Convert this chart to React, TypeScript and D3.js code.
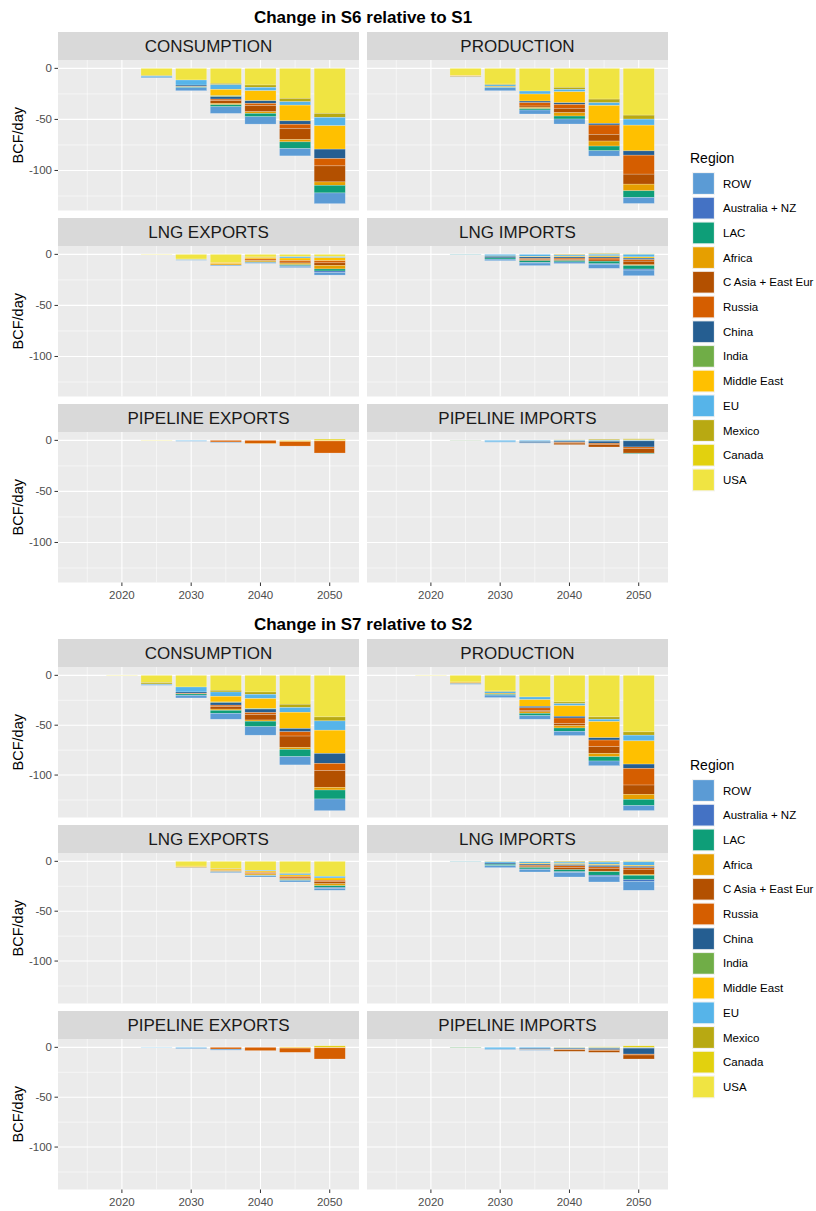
import React from "react";
import * as d3 from "d3";

const REGIONS = ["ROW", "Australia + NZ", "LAC", "Africa", "C Asia + East Eur", "Russia", "China", "India", "Middle East", "EU", "Mexico", "Canada", "USA"];
const COLORS = ["#5B9BD5", "#4472C4", "#0E9E78", "#E69F00", "#B35000", "#D55E00", "#255E91", "#70AD47", "#FFC000", "#56B4E9", "#B8A912", "#E2D10E", "#F0E442"];
const YEARS = [2015, 2020, 2025, 2030, 2035, 2040, 2045, 2050];
const FACETS = ["CONSUMPTION", "PRODUCTION", "LNG EXPORTS", "LNG IMPORTS", "PIPELINE EXPORTS", "PIPELINE IMPORTS"];
const Y_TICKS = [0, -50, -100];
const Y_MINOR = [-25, -75, -125];
const X_TICKS = [2020, 2030, 2040, 2050];
const X_MINOR = [2015, 2025, 2035, 2045];
const TITLES = ["Change in S6 relative to S1", "Change in S7 relative to S2"];

// columns: ROW, Aus+NZ, LAC, Africa, CAsia, Russia, China, India, MidEast, EU, Mexico, Canada, USA
const S6_CONSUMPTION = [
  [0, 0, 0, 0, 0, 0, 0, 0, 0, 0, 0, 0, 0],
  [0, 0, 0, 0, 0, 0, 0, 0, 0, 0, 0, 0, 0],
  [-0.8, 0, 0, 0, 0, 0, 0, 0, 0, -1.0, -0.6, 0, -7.0],
  [-3.0, 0, -0.8, 0, 0, -0.5, -1.2, 0, 0, -5.0, 0, 0, -11.4],
  [-6.5, 0, -2.0, -1.3, -2.6, -1.6, -2.3, -1.0, -6.2, -4.6, -1.3, 0, -14.7],
  [-7.2, 0, -3.3, -1.6, -5.9, -2.3, -2.6, 0, -9.8, -3.3, -2.3, 0, -16.3],
  [-7.2, 0, -6.5, -2.3, -10.8, -4.2, -3.3, 0, -15.4, -3.3, -3.3, 0, -29.4],
  [-10.5, 0, -7.5, -3.3, -15.7, -7.2, -9.2, 0, -22.9, -8.2, -3.9, 0, -44.1],
];
const S6_PRODUCTION = [
  [0, 0, 0, 0, 0, 0, 0, 0, 0, 0, 0, 0, 0],
  [0, 0, 0, 0, 0, 0, 0, 0, 0, 0, 0, 0, 0],
  [-0.3, 0, 0, -0.8, 0, 0, 0, 0, -0.5, 0, 0, 0, -6.9],
  [-2.9, 0, -0.6, -0.8, 0, 0, 0, 0, 0, -1.4, -0.8, 0, -15.4],
  [-3.9, 0, -1.3, -1.3, -1.3, -3.3, -1.6, 0, -6.9, -2.9, 0, 0, -22.2],
  [-4.9, 0, -2.9, -3.3, -4.2, -3.9, -1.6, 0, -10.8, -2.3, -2.0, 0, -18.6],
  [-5.2, 0, -4.6, -4.9, -6.5, -9.2, -1.6, 0, -17.6, -2.6, -3.6, 0, -30.1],
  [-5.9, 0, -6.5, -6.5, -9.8, -18.6, -4.2, 0, -25.2, -5.9, -3.9, 0, -45.8],
];
const S6_LNG_EXPORTS = [
  [0, 0, 0, 0, 0, 0, 0, 0, 0, 0, 0, 0, 0],
  [0, 0, 0, 0, 0, 0, 0, 0, 0, 0, 0, 0, 0],
  [0, 0, 0, 0, 0, 0, 0, 0, 0, 0, 0, 0, -0.3],
  [-0.3, 0, 0, 0, 0, 0, 0, 0, 0, -0.3, -0.6, 0, -4.6],
  [-0.8, 0, 0, -1.2, 0, 0, 0, 0, -1.2, 0, 0, 0, -8.0],
  [-0.9, 0, -0.5, -1.2, -0.5, -1.2, 0, 0, -1.5, -0.4, 0, 0, -2.6],
  [-1.3, -0.5, -1.0, -1.6, -1.0, -1.5, 0, 0, -2.5, -1.3, 0, 0, -2.3],
  [-2.5, -1.5, -2.0, -3.5, -2.5, -2.0, 0, 0, -3.0, -1.0, 0, 0, -2.3],
];
const S6_LNG_IMPORTS = [
  [0, 0, 0, 0, 0, 0, 0, 0, 0, 0, 0, 0, 0],
  [0, 0, 0, 0, 0, 0, 0, 0, 0, 0, 0, 0, 0],
  [-0.2, 0, -0.3, 0, 0, 0, 0, 0, 0, 0, 0, 0, 0],
  [-1.5, 0, -1.2, 0, 0, 0, -1.5, -0.5, 0, -1.5, 0, 0, 0],
  [-2.5, -0.5, -1.8, 0, -1.0, -1.2, -1.5, 0, -0.5, -2.0, 0, 0, 0],
  [-1.6, 0, -1.2, 0.3, -1.0, -1.5, -1.2, 0, -0.8, -1.2, -0.5, 0, 0],
  [-4.0, -0.5, -2.5, 0, -1.2, -1.8, -1.2, 0, -1.0, -1.5, 0.8, 0, 0],
  [-5.5, -1.0, -3.5, -0.7, -3.5, -1.5, -1.5, 0, -1.2, -2.5, 0, 0.5, 0],
];
const S6_PIPELINE_EXPORTS = [
  [0, 0, 0, 0, 0, 0, 0, 0, 0, 0, 0, 0, 0],
  [0, 0, 0, 0, 0, 0, 0, 0, 0, 0, 0, 0, 0],
  [0, 0, 0, 0, 0, 0, 0, 0, 0, 0, 0, 0, -0.4],
  [-0.3, 0, 0, 0, 0, 0, 0, 0, 0, -0.6, 0, 0, 0],
  [-0.5, 0, 0, 0, 0, -1.6, 0, 0, 0, 0, 0, 0, 0],
  [0, 0, 0, -0.3, 0, -3.0, 0, 0, 0, 0, 0, 0, 0],
  [0, 0, 0, 0, 0, -4.4, 0, 0, -0.8, 0, 0, -0.4, 0],
  [0, 0, 0, 0, 0, -11.8, 0, 0, -0.6, 0, 0, 1.2, 0],
];
const S6_PIPELINE_IMPORTS = [
  [0, 0, 0, 0, 0, 0, 0, 0, 0, 0, 0, 0, 0],
  [0, 0, 0, 0, 0, 0, 0, 0, 0, 0, 0, 0, 0],
  [0, 0, 0, 0, 0, 0, 0, 0, 0, -0.2, -0.3, 0, 0],
  [-0.3, 0, 0, 0, 0, 0, 0, 0, 0, -1.5, 0, 0, 0],
  [-0.3, 0, 0, 0, 0, 0, -1.2, 0, 0, -1.2, 0, 0, 0],
  [0, 0, 0, 0, -1.5, -0.7, -1.2, 0, 0, -0.8, 0.5, 0, 0],
  [0, 0, 0, 0, -2.5, -1.2, -2.0, 0, 0, -0.8, 1.0, 0, 0],
  [0, 0, -0.5, 0, -4.5, -1.5, -6.0, 0, 0, -0.5, 0.6, 0.9, 0],
];

const S7_CONSUMPTION = [
  [0, 0, 0, 0, 0, 0, 0, 0, 0, 0, 0, 0, 0],
  [0, 0, 0, 0, 0, 0, 0, 0, 0, 0, 0, 0, -0.3],
  [-0.8, 0, 0, 0, 0, 0, 0, 0, 0, -0.5, -1.4, 0, -7.3],
  [-2.7, 0, -1.3, 0, 0, -0.7, -1.3, 0, 0, -5.0, 0, 0, -11.7],
  [-5.9, 0, -3.0, -1.2, -2.5, -1.5, -2.5, -0.7, -5.7, -4.3, -1.7, 0, -15.0],
  [-8.5, 0, -5.5, -1.2, -5.5, -2.0, -3.5, -0.5, -10.0, -4.3, -2.3, 0, -16.7],
  [-8.3, 0, -7.3, -2.0, -11.3, -4.3, -3.3, 0, -16.3, -4.7, -3.3, 0, -29.0],
  [-11.7, 0, -9.0, -2.7, -16.7, -7.3, -10.0, 0, -23.3, -9.3, -4.0, 0, -41.7],
];
const S7_PRODUCTION = [
  [0, 0, 0, 0, 0, 0, 0, 0, 0, 0, 0, 0, 0],
  [0, 0, 0, 0, 0, 0, 0, 0, 0, 0, 0, 0, -0.3],
  [-0.8, 0, 0, -1.0, 0, 0, 0, 0, -0.5, 0, 0, 0, -6.7],
  [-2.5, 0, -0.8, -1.0, 0, 0, 0, 0, 0, -1.5, -0.8, 0, -15.7],
  [-3.6, 0, -2.3, -1.5, -1.3, -2.7, -1.5, 0, -6.7, -2.7, 0, 0, -21.7],
  [-4.3, 0, -3.3, -2.3, -2.0, -5.7, -1.7, 0, -10.7, -2.0, -1.7, 0, -26.7],
  [-4.7, 0, -4.3, -3.3, -6.7, -6.7, -2.3, 0, -16.3, -2.3, -2.3, 0, -41.7],
  [-5.0, 0, -6.3, -5.0, -9.3, -16.7, -4.3, 0, -23.3, -5.7, -3.3, 0, -56.7],
];
const S7_LNG_EXPORTS = [
  [0, 0, 0, 0, 0, 0, 0, 0, 0, 0, 0, 0, 0],
  [0, 0, 0, 0, 0, 0, 0, 0, 0, 0, 0, 0, 0],
  [0, 0, 0, 0, 0, 0, 0, 0, 0, 0, 0, 0, 0],
  [-0.3, 0, 0, -0.8, 0, 0, 0, 0, -0.8, 0, 0, 0, -4.8],
  [-1.0, 0, 0, -1.0, 0, -0.3, 0, 0, -1.2, 0, -0.5, 0, -7.3],
  [-1.2, 0, -0.5, -1.2, -0.5, -1.0, 0, 0, -1.5, -0.8, 0, 0, -9.0],
  [-1.5, 0, -0.7, -1.0, -0.8, -1.5, 0, 0, -1.5, -1.2, -0.8, 0, -11.7],
  [-1.8, -1.0, -1.7, -2.0, -2.0, -1.5, 0, 0, -2.3, -1.7, 0, 0, -15.0],
];
const S7_LNG_IMPORTS = [
  [0, 0, 0, 0, 0, 0, 0, 0, 0, 0, 0, 0, 0],
  [0, 0, 0, 0, 0, 0, 0, 0, 0, 0, 0, 0, 0],
  [-0.2, 0, -0.3, 0, 0, 0, 0, 0, 0, 0, 0, 0, 0],
  [-2.0, 0, -1.3, 0, 0, 0, -1.2, 0, 0, -1.3, -0.5, 0, 0],
  [-2.5, -0.5, -1.5, 0, -1.2, -1.0, -1.2, 0, -0.8, -1.5, -0.5, 0, 0],
  [-4.5, -0.8, -2.0, 0, -2.2, -1.7, -1.2, 0, -1.0, -1.5, -0.8, 0, 0],
  [-5.8, -1.0, -3.5, -0.5, -2.8, -1.5, -1.5, 0, -1.0, -2.3, -0.8, 0, 0],
  [-9.0, -1.5, -4.5, -1.0, -5.0, -1.5, -1.5, 0, -1.0, -3.5, -0.5, 0.5, 0],
];
const S7_PIPELINE_EXPORTS = [
  [0, 0, 0, 0, 0, 0, 0, 0, 0, 0, 0, 0, 0],
  [0, 0, 0, 0, 0, 0, 0, 0, 0, 0, 0, 0, 0],
  [0, 0, 0, 0, 0, 0, 0, 0, 0, -0.3, 0, 0, 0],
  [-0.6, 0, 0, 0, 0, 0, 0, 0, 0, -0.7, 0, 0, 0],
  [-1.0, 0, 0, 0, 0, -1.8, 0, 0, 0, 0, 0, 0, 0],
  [0, 0, 0, 0, 0, -3.3, 0, 0, 0, 0, 0, 0, 0],
  [0, 0, 0, 0, 0, -4.2, 0, 0, -0.8, 0, 0, 0, 0],
  [0, 0, 0, 0, 0, -11.2, 0, 0, -0.5, 0, 0, 1.5, 0],
];
const S7_PIPELINE_IMPORTS = [
  [0, 0, 0, 0, 0, 0, 0, 0, 0, 0, 0, 0, 0],
  [0, 0, 0, 0, 0, 0, 0, 0, 0, 0, 0, 0, 0],
  [0, 0, -0.3, 0, 0, 0, 0, 0, 0, 0, -0.3, 0, 0],
  [-0.5, 0, 0, 0, 0, 0, 0, 0, 0, -1.7, 0, 0, 0],
  [-0.5, 0, 0, 0, 0, -0.3, -1.2, 0, 0, -1.0, 0, 0, 0],
  [0, 0, 0, 0, -1.5, -0.5, -1.0, 0, 0, -0.5, -0.5, 0, 0],
  [0, 0, 0, 0, -1.7, -0.8, -1.5, 0, 0, -0.5, -0.5, 0.5, 0],
  [0, 0, 0, 0, -4.0, -0.9, -6.0, 0, 0, -0.3, -0.5, 1.5, 0],
];

const BLOCK_DATA = [
  [S6_CONSUMPTION, S6_PRODUCTION, S6_LNG_EXPORTS, S6_LNG_IMPORTS, S6_PIPELINE_EXPORTS, S6_PIPELINE_IMPORTS],
  [S7_CONSUMPTION, S7_PRODUCTION, S7_LNG_EXPORTS, S7_LNG_IMPORTS, S7_PIPELINE_EXPORTS, S7_PIPELINE_IMPORTS],
];

const FONT = "'Liberation Sans', Arial, Helvetica, sans-serif";
const BLOCK_TOPS = [0, 607];
const COL_X = [58, 367];
const PANEL_W = 301;
const STRIP_H = 28;
const PANEL_H = 150.5;
const ROW_TOPS = [32, 218, 404];
const BAR_W = 4.5;

function stackFacet(rows: number[][]) {
  const keys = REGIONS.slice().reverse();
  const table = YEARS.map((yr, i) => {
    const o: any = { year: yr };
    REGIONS.forEach((r, j) => (o[r] = rows[i][j]));
    return o;
  });
  return d3.stack<any>().keys(keys).offset(d3.stackOffsetDiverging)(table);
}

function Block({ bi }: { bi: number }) {
  const top = BLOCK_TOPS[bi];
  const stacks = BLOCK_DATA[bi].map(stackFacet);
  let lo = 0, hi = 0;
  stacks.forEach((s) => s.forEach((layer) => layer.forEach((d) => {
    lo = Math.min(lo, d[0], d[1]);
    hi = Math.max(hi, d[0], d[1]);
  })));
  const ex = (hi - lo) * 0.05;
  const xlo = YEARS[0] - BAR_W / 2, xhi = YEARS[YEARS.length - 1] + BAR_W / 2;
  const xex = (xhi - xlo) * 0.05;

  return (
    <g>
      <text x={(COL_X[0] + COL_X[1] + PANEL_W) / 2} y={top + 23} textAnchor="middle" fontFamily={FONT} fontWeight="bold" fontSize={17} fill="#000">
        {TITLES[bi]}
      </text>
      {FACETS.map((f, fi) => {
        const col = fi % 2, row = Math.floor(fi / 2);
        const x0 = COL_X[col];
        const sTop = top + ROW_TOPS[row];
        const pTop = sTop + STRIP_H;
        const xs = d3.scaleLinear().domain([xlo - xex, xhi + xex]).range([x0, x0 + PANEL_W]);
        const ys = d3.scaleLinear().domain([lo - ex, hi + ex]).range([pTop + PANEL_H, pTop]);
        const stack = stacks[fi];
        return (
          <g key={f}>
            <rect x={x0} y={sTop} width={PANEL_W} height={STRIP_H} fill="#D9D9D9" />
            <text x={x0 + PANEL_W / 2} y={sTop + 20} textAnchor="middle" fontFamily={FONT} fontSize={17} fill="#1A1A1A">{f}</text>
            <rect x={x0} y={pTop} width={PANEL_W} height={PANEL_H} fill="#EBEBEB" />
            {Y_MINOR.map((v) => (
              <line key={"ym" + v} x1={x0} x2={x0 + PANEL_W} y1={ys(v)} y2={ys(v)} stroke="#fff" strokeWidth={0.55} />
            ))}
            {X_MINOR.map((v) => (
              <line key={"xm" + v} x1={xs(v)} x2={xs(v)} y1={pTop} y2={pTop + PANEL_H} stroke="#fff" strokeWidth={0.55} />
            ))}
            {Y_TICKS.map((v) => (
              <line key={"y" + v} x1={x0} x2={x0 + PANEL_W} y1={ys(v)} y2={ys(v)} stroke="#fff" strokeWidth={1.1} />
            ))}
            {X_TICKS.map((v) => (
              <line key={"x" + v} x1={xs(v)} x2={xs(v)} y1={pTop} y2={pTop + PANEL_H} stroke="#fff" strokeWidth={1.1} />
            ))}
            {stack.map((layer) => {
              const ci = REGIONS.indexOf(layer.key);
              return layer.map((d, i) => {
                const a = ys(d[0]), b = ys(d[1]);
                const h = Math.abs(a - b);
                if (h < 0.01) return null;
                const yr = YEARS[i];
                return (
                  <rect key={layer.key + yr} x={xs(yr - BAR_W / 2)} width={xs(yr + BAR_W / 2) - xs(yr - BAR_W / 2)}
                    y={Math.min(a, b)} height={h} fill={COLORS[ci]} stroke="rgba(255,255,255,0.45)" strokeWidth={0.5} />
                );
              });
            })}
            {col === 0 && Y_TICKS.map((v) => (
              <g key={"yt" + v}>
                <line x1={x0 - 3.5} x2={x0} y1={ys(v)} y2={ys(v)} stroke="#333" strokeWidth={1} />
                <text x={x0 - 6} y={ys(v) + 4} textAnchor="end" fontFamily={FONT} fontSize={11.5} fill="#4D4D4D">{v}</text>
              </g>
            ))}
            {col === 0 && (
              <text transform={`translate(${23},${pTop + PANEL_H / 2}) rotate(-90)`} textAnchor="middle" fontFamily={FONT} fontSize={14.5} fill="#000">BCF/day</text>
            )}
            {row === 2 && X_TICKS.map((v) => (
              <g key={"xt" + v}>
                <line x1={xs(v)} x2={xs(v)} y1={pTop + PANEL_H} y2={pTop + PANEL_H + 3.5} stroke="#333" strokeWidth={1} />
                <text x={xs(v)} y={pTop + PANEL_H + 16} textAnchor="middle" fontFamily={FONT} fontSize={11.5} fill="#4D4D4D">{v}</text>
              </g>
            ))}
          </g>
        );
      })}
      <text x={690} y={top + 163} fontFamily={FONT} fontSize={14} fill="#000">Region</text>
      {REGIONS.map((r, i) => {
        const ky = top + 172 + i * 24.7;
        return (
          <g key={r}>
            <rect x={692} y={ky} width={23} height={23} fill="#F2F2F2" />
            <rect x={693} y={ky + 1} width={21} height={21} fill={COLORS[i]} stroke="rgba(255,255,255,0.45)" strokeWidth={0.5} />
            <text x={723} y={ky + 15.5} fontFamily={FONT} fontSize={11.5} fill="#000">{r}</text>
          </g>
        );
      })}
    </g>
  );
}

export default function App() {
  return (
    <div style={{ position: "absolute", left: 0, top: 0 }}>
      <svg width={816} height={1211} style={{ display: "block", background: "#fff" }}>
        <Block bi={0} />
        <Block bi={1} />
      </svg>
    </div>
  );
}
